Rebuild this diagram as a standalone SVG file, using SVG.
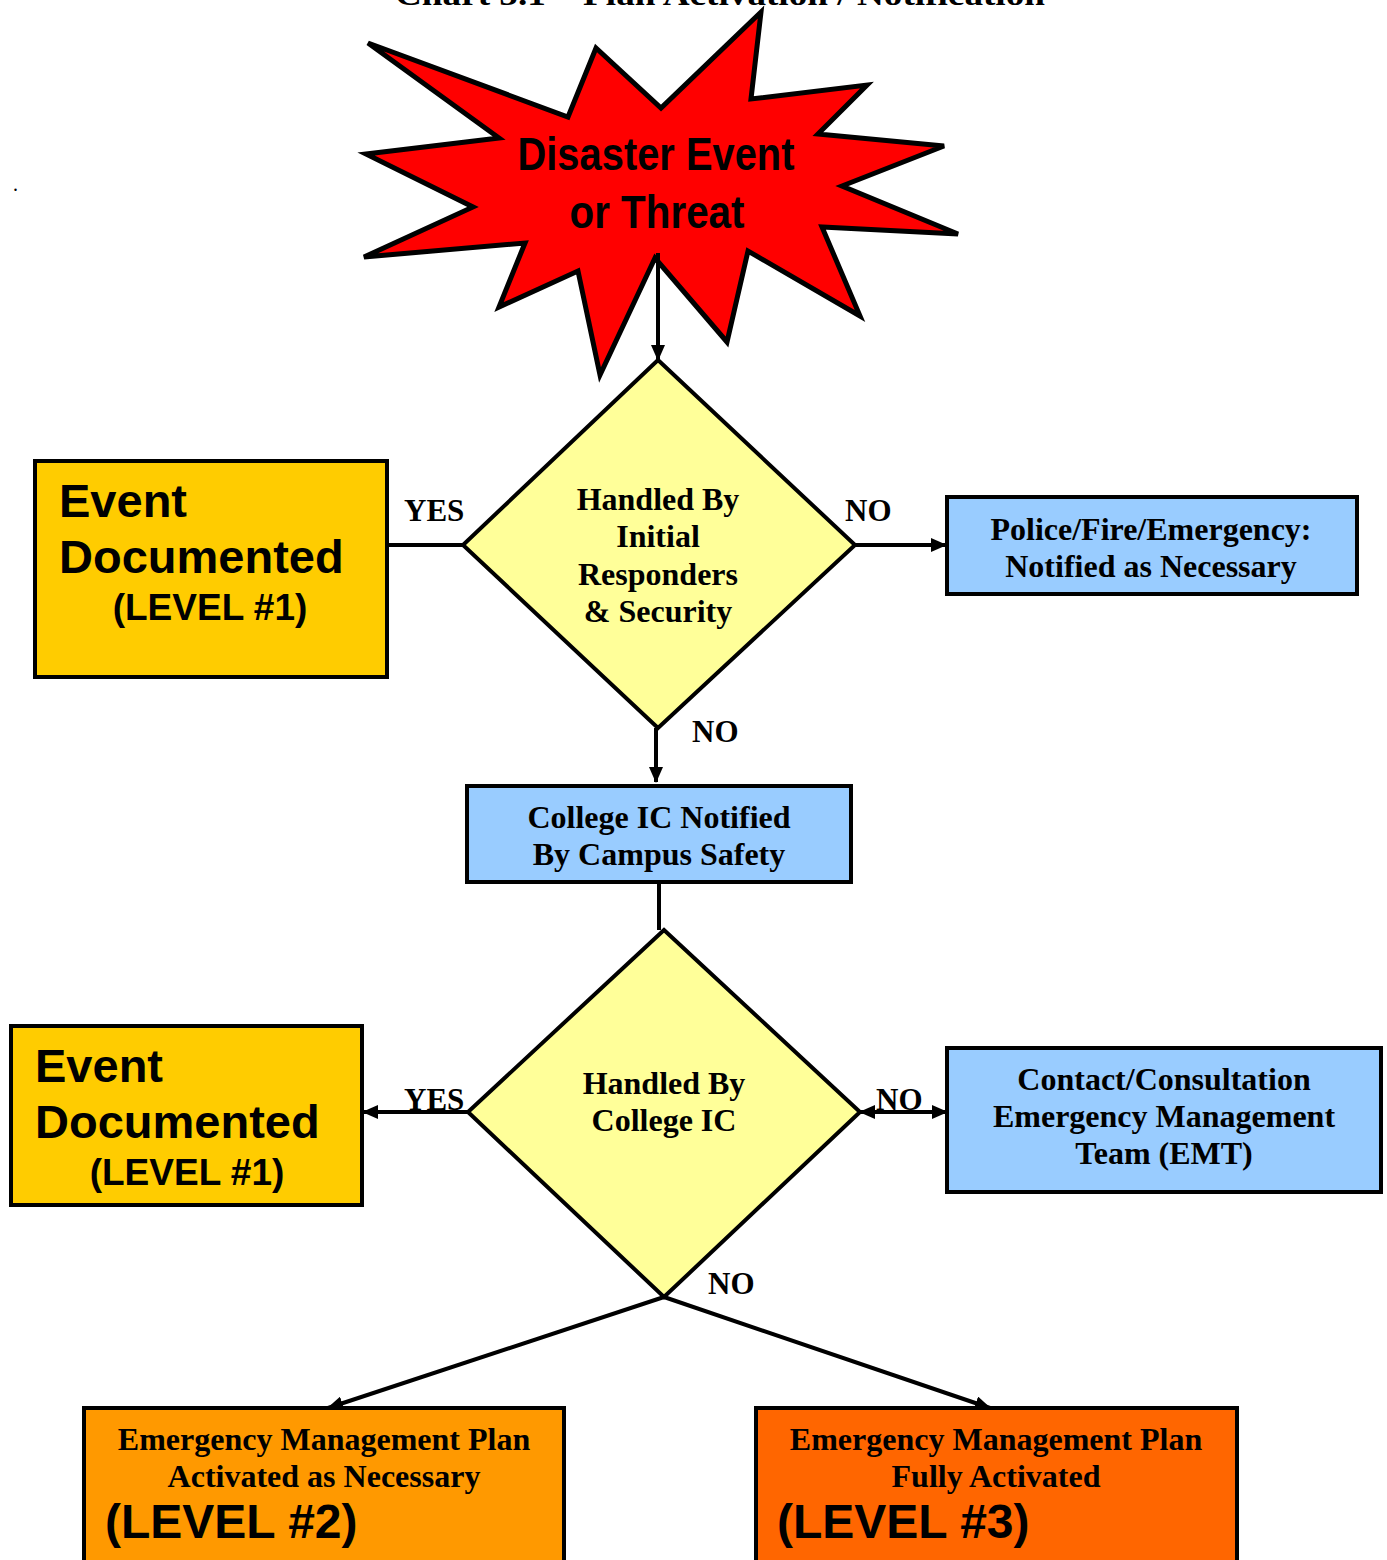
<svg xmlns="http://www.w3.org/2000/svg" width="1387" height="1560" viewBox="0 0 1387 1560">
<style>
.bx{stroke:#000;stroke-width:4}
.t{font-family:"Liberation Serif","Times New Roman",serif;font-weight:bold;font-size:32px;fill:#000;text-anchor:middle}
.lbl{font-family:"Liberation Serif","Times New Roman",serif;font-weight:bold;font-size:31px;fill:#000}
.a{font-family:"Liberation Sans",Arial,sans-serif;font-weight:bold;fill:#000}
.c{stroke:#000;stroke-width:4;fill:none}
</style>
<defs>
<marker id="ah" markerUnits="userSpaceOnUse" markerWidth="16" markerHeight="14" refX="15" refY="7" orient="auto">
<path d="M0,0 L16,7 L0,14 Z" fill="#000"/>
</marker>
<marker id="ahs" markerUnits="userSpaceOnUse" markerWidth="16" markerHeight="14" refX="1" refY="7" orient="auto">
<path d="M16,0 L0,7 L16,14 Z" fill="#000"/>
</marker>
</defs>
<rect width="1387" height="1560" fill="#fff"/>
<text class="lbl" x="720" y="5" text-anchor="middle" textLength="650" lengthAdjust="spacingAndGlyphs">Chart 5.1 – Plan Activation / Notification</text>
<text x="13" y="191" style="font-family:'Liberation Serif',serif;font-size:20px;fill:#000">.</text>

<g id="connectors">
<line class="c" x1="463" y1="545" x2="387" y2="545"/>
<line class="c" x1="855" y1="545" x2="946" y2="545" marker-end="url(#ah)"/>
<line class="c" x1="656" y1="728" x2="656" y2="782" marker-end="url(#ah)"/>
<line class="c" x1="659" y1="882" x2="659" y2="930"/>
<line class="c" x1="468" y1="1112" x2="363" y2="1112" marker-end="url(#ah)"/>
<line class="c" x1="860" y1="1112" x2="947" y2="1112" marker-start="url(#ahs)" marker-end="url(#ah)"/>
<line class="c" x1="664" y1="1297" x2="328" y2="1408" marker-end="url(#ah)"/>
<line class="c" x1="664" y1="1297" x2="990" y2="1408" marker-end="url(#ah)"/>
<text class="lbl" x="404" y="521">YES</text>
<text class="lbl" x="845" y="521">NO</text>
<text class="lbl" x="692" y="742">NO</text>
<text class="lbl" x="404" y="1110">YES</text>
<text class="lbl" x="876" y="1110">NO</text>
<text class="lbl" x="708" y="1294">NO</text>
</g>

<g id="disaster">
<polygon stroke="#000" stroke-width="5" fill="#FF0000" points="368,43 568,117 596,48 661,108 761,12 751,99 867,85 818,134 944,146 842,186 958,234 822,227 860,316 748,251 727,342 655,258 600,375 578,271 499,307 525,243 364,257 473,207 366,154 499,138"/>
<text class="a" x="656" y="170" text-anchor="middle" font-size="46" textLength="277" lengthAdjust="spacingAndGlyphs">Disaster Event</text>
<text class="a" x="657" y="228" text-anchor="middle" font-size="46" textLength="175" lengthAdjust="spacingAndGlyphs">or Threat</text>
</g>
<line class="c" x1="658" y1="253" x2="658" y2="360" marker-end="url(#ah)"/>

<g id="decision1">
<polygon class="bx" fill="#FFFF99" points="658,360 855,545 658,728 463,545"/>
<text class="t" x="658" y="510">Handled By</text>
<text class="t" x="658" y="547">Initial</text>
<text class="t" x="658" y="585">Responders</text>
<text class="t" x="658" y="622">&amp; Security</text>
</g>

<g id="documented1">
<rect class="bx" x="35" y="461" width="352" height="216" fill="#FFCC00"/>
<text class="a" x="59" y="517" font-size="47">Event</text>
<text class="a" x="59" y="573" font-size="47">Documented</text>
<text class="a" x="210" y="620" font-size="37" text-anchor="middle">(LEVEL #1)</text>
</g>

<g id="police">
<rect class="bx" x="947" y="497" width="410" height="97" fill="#99CCFF"/>
<text class="t" x="1151" y="540">Police/Fire/Emergency:</text>
<text class="t" x="1151" y="577">Notified as Necessary</text>
</g>

<g id="collegeic">
<rect class="bx" x="467" y="786" width="384" height="96" fill="#99CCFF"/>
<text class="t" x="659" y="828">College IC Notified</text>
<text class="t" x="659" y="865">By Campus Safety</text>
</g>

<g id="decision2">
<polygon class="bx" fill="#FFFF99" points="664,930 860,1112 664,1297 468,1112"/>
<text class="t" x="664" y="1094">Handled By</text>
<text class="t" x="664" y="1131">College IC</text>
</g>

<g id="documented2">
<rect class="bx" x="11" y="1026" width="351" height="179" fill="#FFCC00"/>
<text class="a" x="35" y="1082" font-size="47">Event</text>
<text class="a" x="35" y="1138" font-size="47">Documented</text>
<text class="a" x="187" y="1185" font-size="37" text-anchor="middle">(LEVEL #1)</text>
</g>

<g id="emt">
<rect class="bx" x="947" y="1048" width="434" height="144" fill="#99CCFF"/>
<text class="t" x="1164" y="1090">Contact/Consultation</text>
<text class="t" x="1164" y="1127">Emergency Management</text>
<text class="t" x="1164" y="1164">Team (EMT)</text>
</g>

<g id="level2">
<rect class="bx" x="84" y="1408" width="480" height="160" fill="#FF9900"/>
<text class="t" x="324" y="1450">Emergency Management Plan</text>
<text class="t" x="324" y="1487">Activated as Necessary</text>
<text class="a" x="105" y="1538" font-size="48">(LEVEL #2)</text>
</g>

<g id="level3">
<rect class="bx" x="756" y="1408" width="481" height="160" fill="#FF6600"/>
<text class="t" x="996" y="1450">Emergency Management Plan</text>
<text class="t" x="996" y="1487">Fully Activated</text>
<text class="a" x="777" y="1538" font-size="48">(LEVEL #3)</text>
</g>
</svg>
